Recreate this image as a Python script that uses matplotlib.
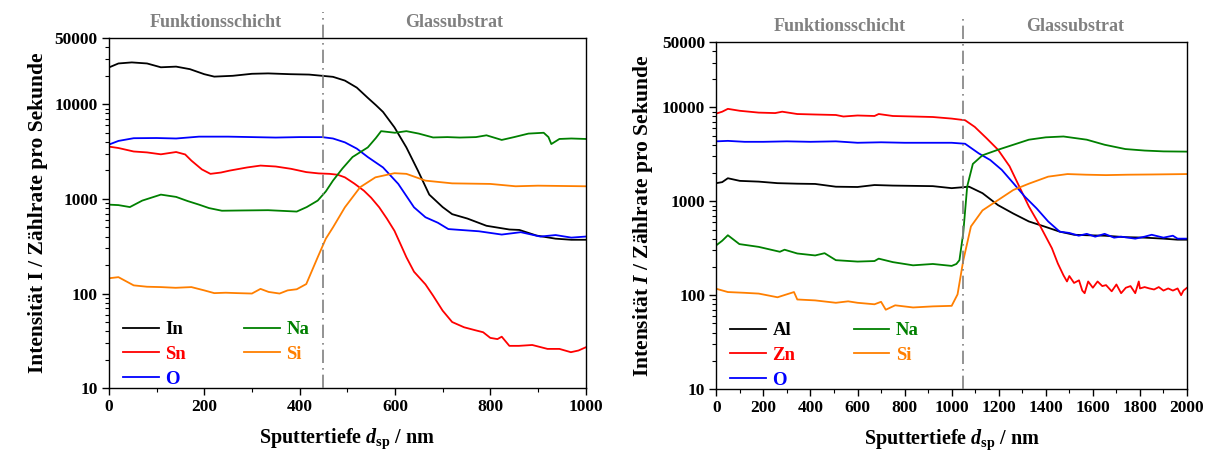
import matplotlib
matplotlib.use("Agg")
import matplotlib.pyplot as plt
from matplotlib.ticker import FixedLocator, LogLocator, NullFormatter, MultipleLocator

plt.rcParams['font.family'] = ['Liberation Serif', 'DejaVu Serif']
plt.rcParams['font.weight'] = 'bold'
plt.rcParams['mathtext.fontset'] = 'custom'
plt.rcParams['mathtext.rm'] = 'Liberation Serif:bold'
plt.rcParams['mathtext.it'] = 'Liberation Serif:italic:bold'
plt.rcParams['mathtext.bf'] = 'Liberation Serif:bold'

# ---------------- ITO on glass (depth 0..1000 nm) ----------------
ito_in_x = [0, 20, 48, 80, 109, 141, 170, 200, 221, 260, 300, 334, 380, 420, 447, 470,
            495, 520, 543, 560, 575, 599, 624, 648, 672, 700, 720, 752, 792, 840, 861,
            897, 937, 970, 1000]
ito_in_y = [24500, 27000, 27700, 27000, 24600, 25000, 23500, 20800, 19600, 20000, 21000,
            21200, 20800, 20600, 20000, 19500, 17800, 15000, 11700, 9800, 8300, 5700, 3500,
            2000, 1110, 820, 690, 620, 520, 475, 470, 410, 380, 370, 370]

ito_sn_x = [0, 20, 52, 80, 109, 141, 160, 173, 195, 213, 235, 253, 290, 318, 350, 382,
            414, 440, 463, 480, 495, 515, 535, 550, 567, 583, 599, 612, 624, 640, 664, 680,
            700, 720, 745, 768, 785, 800, 815, 824, 840, 860, 888, 920, 945, 969, 985, 1000]
ito_sn_y = [3570, 3450, 3170, 3100, 2960, 3130, 2950, 2540, 2050, 1840, 1900, 1990, 2150,
            2250, 2200, 2080, 1920, 1860, 1840, 1800, 1690, 1450, 1220, 1030, 815, 620, 460,
            330, 242, 170, 125, 95, 66, 50, 44, 41, 39, 34, 33, 35, 28, 28, 28.6, 26, 26,
            24, 25, 27]

ito_o_x = [0, 20, 52, 100, 141, 189, 250, 300, 350, 400, 447, 470, 495, 520, 543, 575,
           607, 640, 664, 690, 712, 776, 824, 864, 905, 937, 970, 1000]
ito_o_y = [3750, 4100, 4380, 4400, 4350, 4550, 4550, 4500, 4450, 4500, 4500, 4350, 3960,
           3400, 2770, 2150, 1440, 815, 640, 560, 480, 455, 420, 445, 400, 415, 390, 400]

ito_na_x = [0, 20, 44, 70, 109, 141, 165, 189, 210, 237, 280, 334, 370, 394, 415, 438,
            455, 470, 490, 511, 543, 560, 571, 600, 624, 650, 680, 710, 736, 770, 792, 824,
            850, 880, 912, 922, 928, 945, 970, 1000]
ito_na_y = [870, 860, 820, 960, 1110, 1050, 950, 870, 800, 750, 755, 760, 745, 735, 820,
            960, 1200, 1560, 2100, 2770, 3500, 4400, 5200, 5000, 5200, 4900, 4460, 4500,
            4450, 4500, 4700, 4200, 4500, 4900, 5000, 4500, 3800, 4300, 4350, 4300]

ito_si_x = [0, 20, 52, 80, 109, 140, 173, 200, 221, 245, 270, 300, 318, 335, 358, 375,
            394, 414, 438, 455, 470, 495, 527, 559, 599, 624, 664, 720, 800, 853, 900, 1000]
ito_si_y = [145, 149, 122, 118, 117, 115, 117, 108, 101, 102, 101, 100, 112, 104, 100,
            108, 111, 126, 242, 380, 500, 815, 1330, 1690, 1870, 1840, 1560, 1460, 1440,
            1360, 1380, 1360]

# ---------------- AZO on glass (depth 0..2000 nm) ----------------
azo_zn_x = [0, 25, 49, 100, 180, 250, 280, 344, 420, 508, 540, 600, 672, 690, 750, 836,
            920, 1000, 1057, 1098, 1148, 1197, 1246, 1287, 1328, 1377, 1426, 1451, 1475,
            1490, 1500, 1520, 1541, 1555, 1565, 1580, 1600, 1620, 1640, 1656, 1680, 1700,
            1720, 1740, 1760, 1780, 1795, 1800, 1820, 1840, 1860, 1880, 1900, 1920, 1940,
            1960, 1975, 1985, 2000]
azo_zn_y = [8600, 9000, 9650, 9200, 8800, 8700, 9000, 8500, 8400, 8300, 8000, 8200, 8100,
            8500, 8100, 8000, 7900, 7600, 7300, 6200, 4700, 3540, 2360, 1440, 880, 540, 316,
            218, 163, 140, 160, 135, 144, 112, 105, 140, 120, 140, 125, 128, 110, 130, 105,
            120, 125, 105, 140, 118, 122, 118, 115, 122, 112, 118, 112, 118, 100, 112, 120]

azo_o_x = [0, 49, 120, 200, 300, 400, 508, 600, 700, 800, 900, 1000, 1057, 1115, 1164,
           1213, 1262, 1311, 1361, 1410, 1459, 1500, 1540, 1574, 1610, 1650, 1690, 1720,
           1780, 1820, 1850, 1900, 1940, 1960, 2000]
azo_o_y = [4350, 4400, 4300, 4300, 4350, 4300, 4350, 4200, 4250, 4200, 4200, 4200, 4100,
           3240, 2750, 2160, 1560, 1120, 840, 610, 475, 460, 430, 450, 420, 450, 410, 420,
           400, 420, 440, 410, 430, 400, 400]

azo_al_x = [0, 25, 49, 100, 180, 260, 344, 420, 508, 600, 672, 750, 836, 920, 1000, 1074,
            1131, 1197, 1262, 1328, 1393, 1459, 1520, 1574, 1650, 1738, 1820, 1900, 1960,
            2000]
azo_al_y = [1560, 1600, 1760, 1650, 1620, 1560, 1540, 1530, 1430, 1420, 1490, 1470, 1460,
            1450, 1380, 1430, 1220, 910, 740, 610, 540, 475, 440, 435, 430, 415, 410, 400,
            390, 390]

azo_na_x = [0, 25, 49, 98, 180, 270, 290, 344, 420, 460, 508, 600, 672, 690, 750, 836,
            920, 1000, 1020, 1033, 1049, 1066, 1090, 1131, 1197, 1262, 1328, 1400, 1475,
            1574, 1650, 1738, 1820, 1900, 2000]
azo_na_y = [340, 380, 435, 350, 327, 290, 305, 278, 265, 280, 236, 228, 231, 245, 225, 208,
            215, 205, 215, 236, 455, 1440, 2500, 3090, 3540, 4000, 4530, 4800, 4900, 4530,
            4000, 3600, 3470, 3400, 3380]

azo_si_x = [0, 49, 120, 180, 260, 330, 344, 420, 508, 560, 600, 672, 700, 720, 760, 836,
            920, 1000, 1025, 1049, 1082, 1131, 1197, 1262, 1328, 1410, 1492, 1570, 1656,
            1750, 1850, 2000]
azo_si_y = [117, 108, 106, 104, 95, 108, 90, 88, 83, 86, 83, 80, 85, 70, 78, 74, 76, 77,
            102, 232, 540, 800, 1030, 1320, 1540, 1830, 1950, 1920, 1900, 1920, 1930, 1950]

BLACK = '#000000'
RED = '#ff0000'
BLUE = '#0000ff'
GREEN = '#008000'
ORANGE = '#ff7f00'
GRAY = '#808080'

fig = plt.figure(figsize=(12.1, 4.54), dpi=100)
ax1 = fig.add_axes([0.090, 0.145, 0.394, 0.771])
ax2 = fig.add_axes([0.592, 0.143, 0.389, 0.765])


def style_axes(ax, xmax, boundary, italic_i):
    ax.set_yscale('log')
    ax.set_ylim(10, 50000)
    ax.set_xlim(0, xmax)
    ax.yaxis.set_major_locator(FixedLocator([10, 100, 1000, 10000, 50000]))
    ax.yaxis.set_minor_locator(LogLocator(base=10, subs=range(2, 10)))
    ax.yaxis.set_minor_formatter(NullFormatter())
    ax.set_yticklabels(['10', '100', '1000', '10000', '50000'])
    ax.xaxis.set_major_locator(MultipleLocator(200))
    ax.xaxis.set_minor_locator(MultipleLocator(100))
    ax.tick_params(axis='both', which='major', direction='out', length=5, width=1,
                   labelsize=12.5, pad=3)
    ax.tick_params(axis='both', which='minor', direction='out', length=3, width=0.8)
    for lbl in ax.get_xticklabels() + ax.get_yticklabels():
        lbl.set_fontweight('bold')
    for sp in ax.spines.values():
        sp.set_linewidth(1.0)
    ax.set_xlabel(r'Sputtertiefe $d_{\mathrm{sp}}$ / nm', fontsize=14.5, fontweight='bold',
                  labelpad=8)
    ilabel = r'$I$' if italic_i else 'I'
    ax.set_ylabel('Intensität ' + ilabel + ' / Zählrate pro Sekunde', fontsize=15.5,
                  fontweight='bold', labelpad=5)
    ax.axvline(boundary, ymin=0, ymax=1.075, color=GRAY, lw=1.2, ls=(0, (8, 3, 1, 3)),
               clip_on=False, zorder=5)
    ax.text(boundary / 2, 1.045, 'Funktionsschicht', transform=ax.get_xaxis_transform(),
            ha='center', va='center', color=GRAY, fontsize=13, fontweight='bold')
    ax.text((boundary + xmax) / 2, 1.045, 'Glassubstrat', transform=ax.get_xaxis_transform(),
            ha='center', va='center', color=GRAY, fontsize=13, fontweight='bold')


lw = 1.3
ax1.plot(ito_in_x, ito_in_y, color=BLACK, lw=lw, label='In')
ax1.plot(ito_sn_x, ito_sn_y, color=RED, lw=lw, label='Sn')
ax1.plot(ito_o_x, ito_o_y, color=BLUE, lw=lw, label='O')
ax1.plot(ito_na_x, ito_na_y, color=GREEN, lw=lw, label='Na')
ax1.plot(ito_si_x, ito_si_y, color=ORANGE, lw=lw, label='Si')
style_axes(ax1, 1000, 450, italic_i=False)

ax2.plot(azo_al_x, azo_al_y, color=BLACK, lw=lw, label='Al')
ax2.plot(azo_zn_x, azo_zn_y, color=RED, lw=lw, label='Zn')
ax2.plot(azo_o_x, azo_o_y, color=BLUE, lw=lw, label='O')
ax2.plot(azo_na_x, azo_na_y, color=GREEN, lw=lw, label='Na')
ax2.plot(azo_si_x, azo_si_y, color=ORANGE, lw=lw, label='Si')
style_axes(ax2, 2000, 1050, italic_i=True)

for ax in (ax1, ax2):
    leg = ax.legend(ncol=2, loc='lower left', bbox_to_anchor=(0.014, -0.02), frameon=False,
                    handlelength=1.9, handletextpad=0.35, columnspacing=3.1,
                    labelspacing=0.4, borderaxespad=0.0,
                    prop={'weight': 'bold', 'size': 13.5})
    for txt, line in zip(leg.get_texts(), leg.get_lines()):
        txt.set_color(line.get_color())

fig.savefig('out.png', dpi=100)
